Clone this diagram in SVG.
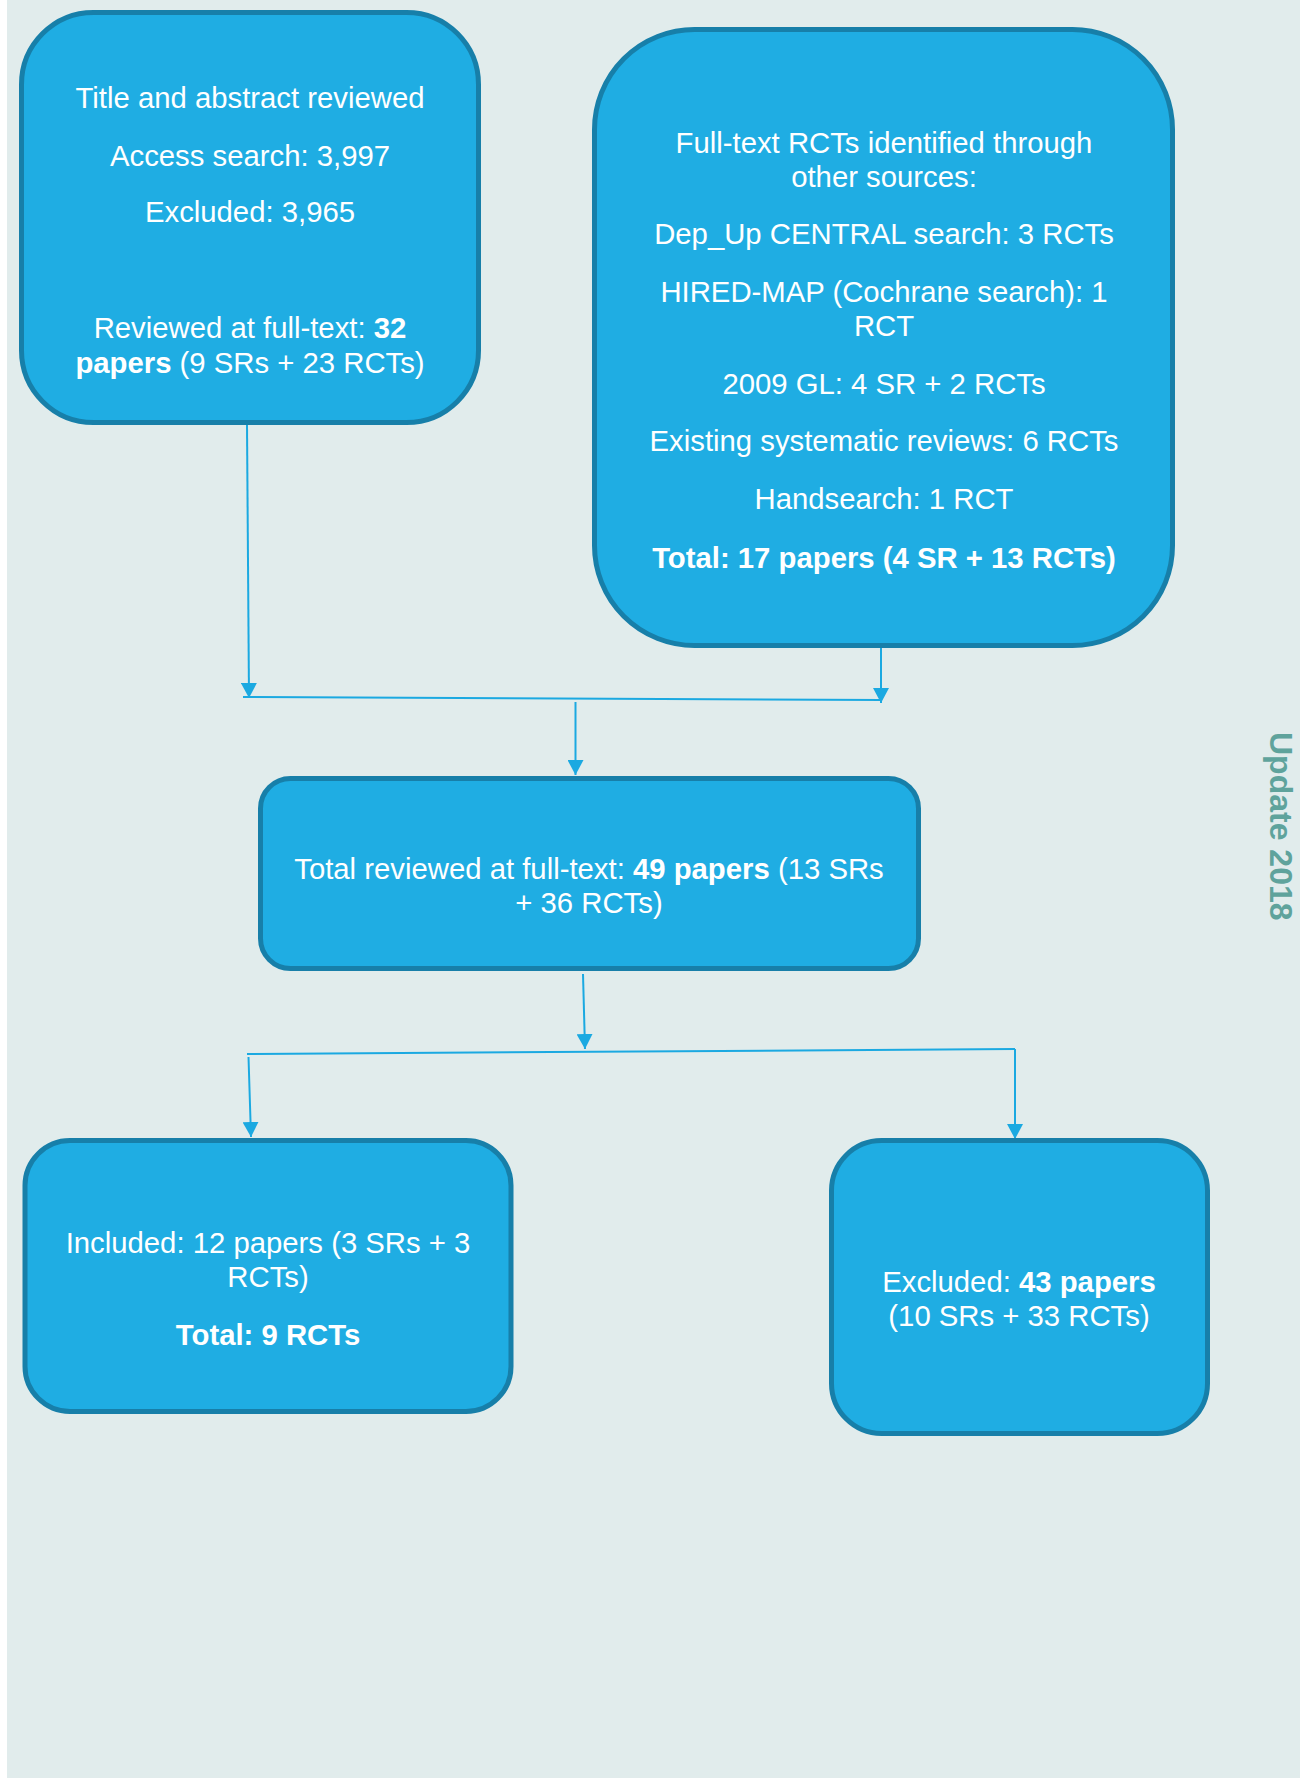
<svg xmlns="http://www.w3.org/2000/svg" width="1309" height="1778" viewBox="0 0 1309 1778">
<style>
.bg{fill:#e1ecec}
.box{fill:#1fade3;stroke:#177fa9;stroke-width:5}
.t{font-family:"Liberation Sans",Arial,sans-serif;font-size:29.3px;fill:#ffffff;text-anchor:middle}
.b{font-weight:bold}
.c{fill:none;stroke:#1ba9e1;stroke-width:2}
.side{font-family:"Liberation Sans",Arial,sans-serif;font-size:32px;font-weight:bold;fill:#5fa39c}
</style>
<defs>
<marker id="arr" viewBox="0 0 15 16" refX="15" refY="8" markerWidth="15" markerHeight="16" markerUnits="userSpaceOnUse" orient="auto">
<path d="M0,0 L15,8 L0,16 z" fill="#1ba9e1"/>
</marker>
</defs>
<rect x="0" y="0" width="1309" height="1778" fill="#ffffff"/>
<rect class="bg" x="7" y="0" width="1293" height="1778"/>

<g id="connectors">
<line class="c" x1="247" y1="425" x2="249" y2="698" marker-end="url(#arr)"/>
<line class="c" x1="243" y1="697" x2="882" y2="700"/>
<line class="c" x1="881" y1="648" x2="881" y2="703" marker-end="url(#arr)"/>
<line class="c" x1="575.5" y1="702" x2="575.5" y2="775" marker-end="url(#arr)"/>
<line class="c" x1="583" y1="974" x2="585" y2="1049" marker-end="url(#arr)"/>
<line class="c" x1="247" y1="1054" x2="1015" y2="1049"/>
<line class="c" x1="248.5" y1="1057" x2="251" y2="1137" marker-end="url(#arr)"/>
<line class="c" x1="1015" y1="1049" x2="1015" y2="1139" marker-end="url(#arr)"/>
</g>

<g id="node-title-abstract">
<rect class="box" x="21.5" y="12.5" width="457" height="410" rx="72" ry="72"/>
<text class="t" x="250" y="108">Title and abstract reviewed</text>
<text class="t" x="250" y="166">Access search: 3,997</text>
<text class="t" x="250" y="222">Excluded: 3,965</text>
<text class="t" x="250" y="338">Reviewed at full-text: <tspan class="b">32</tspan></text>
<text class="t" x="250" y="373"><tspan class="b">papers</tspan> (9 SRs + 23 RCTs)</text>
</g>

<g id="node-other-sources">
<rect class="box" x="594.5" y="29.5" width="578" height="616" rx="100" ry="100"/>
<text class="t" x="884" y="153">Full-text RCTs identified through</text>
<text class="t" x="884" y="187">other sources:</text>
<text class="t" x="884" y="244">Dep_Up CENTRAL search: 3 RCTs</text>
<text class="t" x="884" y="302">HIRED-MAP (Cochrane search): 1</text>
<text class="t" x="884" y="336">RCT</text>
<text class="t" x="884" y="394">2009 GL: 4 SR + 2 RCTs</text>
<text class="t" x="884" y="451">Existing systematic reviews: 6 RCTs</text>
<text class="t" x="884" y="509">Handsearch: 1 RCT</text>
<text class="t b" x="884" y="568">Total: 17 papers (4 SR + 13 RCTs)</text>
</g>

<g id="node-total-reviewed">
<rect class="box" x="260.5" y="778.5" width="658" height="190" rx="30" ry="30"/>
<text class="t" x="589" y="879">Total reviewed at full-text: <tspan class="b">49 papers</tspan> (13 SRs</text>
<text class="t" x="589" y="913">+ 36 RCTs)</text>
</g>

<g id="node-included">
<rect class="box" x="25" y="1140.5" width="486" height="271" rx="45" ry="45"/>
<text class="t" x="268" y="1253">Included: 12 papers (3 SRs + 3</text>
<text class="t" x="268" y="1287">RCTs)</text>
<text class="t b" x="268" y="1345">Total: 9 RCTs</text>
</g>

<g id="node-excluded">
<rect class="box" x="831.5" y="1140.5" width="376" height="293" rx="50" ry="50"/>
<text class="t" x="1019" y="1292">Excluded: <tspan class="b">43 papers</tspan></text>
<text class="t" x="1019" y="1326">(10 SRs + 33 RCTs)</text>
</g>

<text class="side" transform="translate(1270,732) rotate(90)">Update 2018</text>
</svg>
